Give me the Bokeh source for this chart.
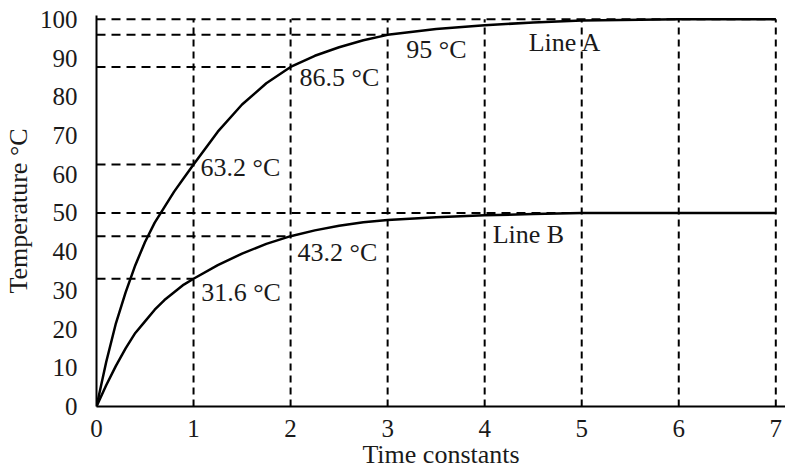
from bokeh.plotting import figure
from bokeh.models import Range1d, ColumnDataSource, FixedTicker
from bokeh.core.properties import value
from bokeh.embed import file_html
from bokeh.resources import INLINE

# ---- data ----
t = [0, 0.1, 0.2, 0.3, 0.4, 0.5, 0.6, 0.7, 0.8, 0.9, 1.0,
     1.25, 1.5, 1.75, 2.0, 2.25, 2.5, 2.75, 3.0, 3.5, 4.0, 4.5, 5.0, 6.0, 7.0]
line_a = [0, 11.5, 21.5, 29.5, 36.5, 42.5, 47.5, 51.5, 55.5, 59.0, 62.5,
          71.0, 78.0, 83.5, 87.7, 90.6, 92.8, 94.6, 96.0, 97.5, 98.5, 99.2, 99.7, 100, 100]
line_b = [0, 5.5, 10.5, 15.0, 19.0, 22.0, 25.0, 27.5, 29.5, 31.5, 33.0,
          36.5, 39.5, 42.0, 44.0, 45.5, 46.7, 47.6, 48.2, 48.9, 49.4, 49.7, 50, 50, 50]

x_ticks = [0, 1, 2, 3, 4, 5, 6, 7]
y_ticks = [0, 10, 20, 30, 40, 50, 60, 70, 80, 90, 100]

# dashed guides
vert_x = [1, 2, 3, 4, 5, 6, 7]
vert_top = 100
guide_y = [100, 96, 87.7, 62.5, 50, 44, 33]
guide_x_end = [7, 3, 2, 1, 7, 2, 1]

label_text = ["63.2 °C", "86.5 °C", "95 °C", "Line A", "Line B", "43.2 °C", "31.6 °C"]
label_x = [1.072, 2.093, 3.193, 4.454, 4.082, 2.072, 1.079]
label_y = [61.7, 85.0, 92.2, 94.0, 44.4, 39.8, 29.4]

FONT = "Liberation Serif"

p = figure(
    output_backend="svg", toolbar_location=None,
    frame_width=689, frame_height=391,
    x_range=Range1d(0, 7.1), y_range=Range1d(0, 101),
    min_border_left=89, min_border_right=0, min_border_top=15, min_border_bottom=58,
)
p.outline_line_color = None
p.xgrid.visible = False
p.ygrid.visible = False
p.background_fill_color = "white"
p.border_fill_color = "white"

# dashed guides
p.segment(x0=vert_x, y0=[0] * len(vert_x), x1=vert_x, y1=[vert_top] * len(vert_x),
          line_color="black", line_width=2, line_dash="7 5")
p.segment(x0=[0] * len(guide_y), y0=guide_y, x1=guide_x_end, y1=guide_y,
          line_color="black", line_width=2, line_dash="9 6")

# curves
src = ColumnDataSource(dict(t=t, a=line_a, b=line_b))
p.line("t", "a", source=src, line_color="black", line_width=2.5)
p.line("t", "b", source=src, line_color="black", line_width=2.5)

# labels
lsrc = ColumnDataSource(dict(x=label_x, y=label_y, text=label_text))
p.text(x="x", y="y", text="text", source=lsrc, text_font=value(FONT),
       text_font_size="26px", text_color="#1a1a1a", text_align="left",
       text_baseline="middle")

for ax in (p.xaxis[0], p.yaxis[0]):
    ax.axis_line_color = "black"
    ax.axis_line_width = 2
    ax.major_tick_line_color = None
    ax.minor_tick_line_color = None
    ax.major_label_text_font = FONT
    ax.major_label_text_font_size = "25px"
    ax.major_label_text_color = "#1a1a1a"
    ax.axis_label_text_font = FONT
    ax.axis_label_text_font_size = "26px"
    ax.axis_label_text_font_style = "normal"
    ax.axis_label_text_color = "#1a1a1a"

p.xaxis.ticker = FixedTicker(ticks=x_ticks)
p.yaxis.ticker = FixedTicker(ticks=y_ticks)
p.xaxis.axis_label = "Time constants"
p.yaxis.axis_label = "Temperature °C"
p.xaxis.major_label_standoff = 7
p.yaxis.major_label_standoff = 13
p.xaxis.axis_label_standoff = 0
p.yaxis.axis_label_standoff = 4

open("out.html", "w").write(file_html(p, INLINE))
